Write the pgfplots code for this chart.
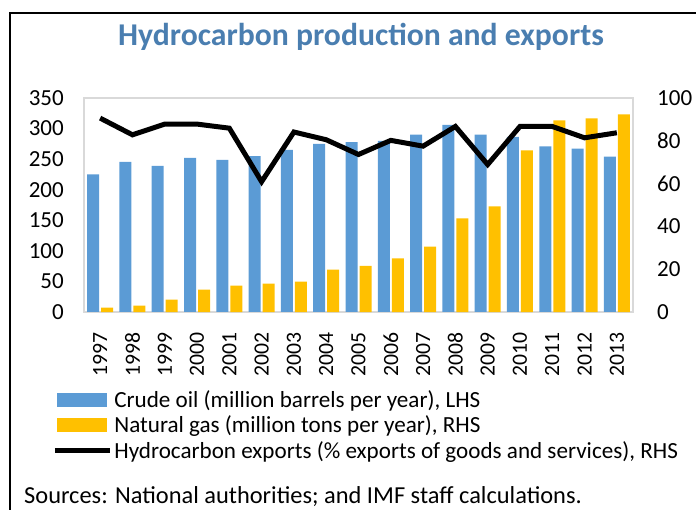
\documentclass[border=0pt]{standalone}
\usepackage{fontspec}
\setmainfont{Carlito}
\usepackage{pgfplots}
\pgfplotsset{compat=1.18}
\definecolor{oil}{HTML}{5B9BD5}
\definecolor{gas}{HTML}{FFC000}
\definecolor{ttl}{HTML}{4A7EB0}
\definecolor{frm}{HTML}{D9D9D9}
\begin{document}
\begin{tikzpicture}
\path[use as bounding box] (0pt,0pt) rectangle (696pt,-510pt);
\draw[line width=2.5pt] (10pt,-515pt) -- (10pt,-13pt) -- (700pt,-13pt);
\node[font=\bfseries\fontsize{31.7}{36}\selectfont, text=ttl] at (361pt,-37pt) {Hydrocarbon production and exports};
\begin{axis}[at={(84pt,-312pt)}, anchor=south west, scale only axis,
  width=549pt, height=214pt,
  xmin=-0.5, xmax=16.5, ymin=0, ymax=350,
  ytick={0,50,...,350}, xtick={0,...,16},
  xticklabels={1997,1998,1999,2000,2001,2002,2003,2004,2005,2006,2007,2008,2009,2010,2011,2012,2013},
  major tick length=0pt,
  axis line style={draw=frm, line width=1.2pt},
  tick label style={font=\fontsize{23}{27}\selectfont, inner sep=0pt},
  /pgf/number format/assume math mode=true,
  x tick label style={rotate=90, anchor=east, font=\fontsize{21.7}{26}\selectfont},
  xticklabel shift=20pt, yticklabel shift=20pt,
  ybar, bar width=12pt,
]
\addplot[fill=oil, draw=none, bar shift=-7pt] coordinates {
(0,225) (1,245.5) (2,239) (3,252) (4,249) (5,255) (6,265) (7,275) (8,278)
(9,280) (10,290) (11,306) (12,290) (13,286.5) (14,270.7) (15,267.4) (16,254.3)};
\end{axis}
\begin{axis}[at={(84pt,-312pt)}, anchor=south west, scale only axis,
  width=549pt, height=214pt,
  xmin=-0.5, xmax=16.5, ymin=0, ymax=100,
  axis x line=none, axis y line*=right,
  y axis line style={draw=none},
  ytick={0,20,...,100},
  major tick length=0pt,
  tick label style={font=\fontsize{23}{27}\selectfont, inner sep=0pt},
  /pgf/number format/assume math mode=true,
  yticklabel shift=24pt,
  yticklabel style={anchor=west},
  legend style={at={(axis description cs:-0.058,-0.356)}, anchor=north west,
    draw=none, fill=none, inner sep=0pt, font=\fontsize{23.1}{27}\selectfont,
    cells={anchor=west}, row sep=3pt},
  legend cell align=left,
]
\addlegendimage{area legend, fill=oil, draw=none, legend image code/.code={\fill[oil] (0pt,-7pt) rectangle (50pt,7pt);}}
\addlegendentry{Crude oil (million barrels per year), LHS}
\addplot[ybar, bar width=12pt, fill=gas, draw=none, bar shift=7pt,
  legend image code/.code={\fill[gas] (0pt,-7pt) rectangle (50pt,7pt);}] coordinates {
(0,2.0) (1,3.0) (2,5.8) (3,10.5) (4,12.3) (5,13.3) (6,14.2) (7,19.8) (8,21.5)
(9,25.0) (10,30.6) (11,43.8) (12,49.4) (13,75.5) (14,89.5) (15,90.5) (16,92.3)};
\addlegendentry{Natural gas (million tons per year), RHS}
\addplot[black, line width=5pt, mark=none,
  legend image code/.code={\draw[black, line width=5pt] (-2pt,0pt) -- (53pt,0pt);}] coordinates {
(0,90.6) (1,82.8) (2,87.8) (3,87.8) (4,85.9) (5,60.9) (6,84.1) (7,80.5) (8,73.6)
(9,80.2) (10,77.5) (11,86.7) (12,68.9) (13,86.7) (14,86.7) (15,81.4) (16,83.75)};
\addlegendentry{Hydrocarbon exports (\% exports of goods and services), RHS}
\end{axis}
\node[anchor=west, font=\fontsize{24.4}{28}\selectfont, inner sep=0pt] at (24pt,-497pt) {Sources: National authorities; and IMF staff calculations.};
\end{tikzpicture}
\end{document}
